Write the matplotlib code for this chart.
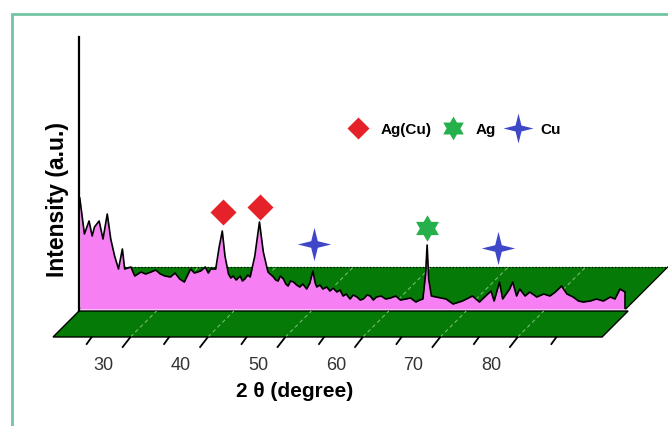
import numpy as np
import matplotlib.pyplot as plt
from matplotlib.patches import Polygon, Rectangle
from matplotlib.path import Path

plt.rcParams['font.family'] = ['Liberation Sans', 'DejaVu Sans']

# XRD pattern (2 theta in degree, intensity in a.u.)
two_theta = [25.1, 25.7, 26.3, 26.7, 27.0, 27.6, 28.1, 28.65, 29.1, 29.6,
             30.1, 30.6, 30.9, 31.7, 32.2, 33.0, 33.6, 34.3, 34.9, 35.5,
             36.1, 36.8, 37.4, 38.0, 38.6, 39.4, 39.9, 40.7, 41.3, 41.7,
             42.0, 42.65, 43.1, 43.5, 43.85, 44.3, 44.6, 44.9, 45.3, 45.8,
             46.1, 46.4, 46.8, 47.1, 47.7, 48.3, 48.8, 49.4, 50.1, 50.4,
             50.7, 51.0, 51.4, 51.7, 52.0, 52.3, 52.7, 53.1, 53.5, 53.9,
             54.4, 54.8, 55.2, 55.5, 55.7, 56.1, 56.5, 57.0, 57.4, 57.8,
             58.3, 58.7, 59.1, 59.5, 60.0, 60.4, 60.9, 61.3, 61.7, 62.2,
             62.6, 63.0, 63.4, 64.0, 64.6, 65.2, 65.9, 66.5, 67.2, 67.8,
             68.5, 69.0, 69.4, 69.75, 69.95, 70.15, 70.5, 71.1, 72.4, 73.3,
             74.5, 75.8, 76.7, 77.5, 78.2, 78.6, 79.3, 79.7, 80.6, 81.0,
             81.5, 81.9, 82.6, 83.2, 84.1, 85.0, 85.8, 86.5, 87.3, 88.0,
             88.8, 89.5, 90.1, 91.0, 91.8, 92.7, 93.6, 94.2, 94.85, 95.5]
intensity = [111, 75, 88, 73, 82, 88, 70, 95, 70, 53,
             40, 60, 40, 42, 33, 37, 35, 37, 39, 35,
             33, 32, 36, 30, 27, 40, 36, 38, 42, 36,
             40, 40, 62, 78, 53, 35, 31, 33, 29, 33,
             28, 30, 34, 32, 53, 87, 57, 37, 32, 29,
             28, 33, 30, 25, 23, 28, 27, 24, 22, 25,
             20, 26, 38, 26, 22, 24, 20, 22, 18, 21,
             17, 19, 13, 15, 10, 14, 12, 9, 10, 14,
             13, 9, 12, 13, 10, 11, 13, 9, 10, 11,
             7, 9, 10, 35, 64, 30, 13, 12, 10, 5,
             8, 13, 7, 13, 18, 8, 27, 10, 20, 27,
             13, 20, 13, 17, 12, 15, 13, 17, 23, 15,
             12, 8, 7, 8, 10, 8, 12, 10, 20, 17]

# phase markers
agcu_x = [43.6, 48.4]
agcu_y = [97, 102]
ag_x = [69.95]
ag_y = [81]
cu_x = [55.3, 79.1]
cu_y = [65, 61]

tick_values = list(range(30, 95, 5))
tick_labels = ['30', '40', '50', '60', '70', '80']

px_per_deg = 7.745
depth = 26 / px_per_deg      # front slab shift (deg)
back = 42 / px_per_deg       # back floor shift (deg)

fig = plt.figure(figsize=(6.68, 4.27), dpi=100)
ax = fig.add_axes([0, 0, 1, 1])
ax.set_xlim(14.80, 101.05)
ax.set_ylim(-117, 310)
ax.axis('off')

# frame
fig.patches.append(Rectangle((12 / 668, -0.02), 1.0, 1 - 15 / 427 + 0.02,
                             transform=fig.transFigure, fill=False,
                             ec='#72c4a4', lw=2))

green = '#067a06'
x0, x1 = 25, 95.6
# back floor
ax.add_patch(Polygon([(x0, 0), (x1, 0), (x1 + back, 42), (x0 + back, 42)],
                     closed=True, fc=green, ec='none', zorder=1))
ax.plot([x0 + back, x1 + back], [42, 42], color='black', lw=0.9, ls=':', zorder=1)
ax.plot([x1, x1 + back], [0, 42], color='black', lw=0.9, zorder=1)
for d in range(35, 95, 10):
    ax.plot([d, d + back], [0, 42], color='#7fc47f', lw=0.7, ls=(0, (4, 3)), zorder=1)

# front slab
ax.add_patch(Polygon([(x0, -2), (x1 + 0.3, -2), (x1 + 0.3 - depth, -28), (x0 - depth, -28)],
                     closed=True, fc=green, ec='black', lw=1.0, zorder=2))
for d in range(35, 95, 10):
    ax.plot([d - depth, d], [-28, -2], color='#7fc47f', lw=0.7, ls=(0, (4, 3)), zorder=2)

# pattern
ax.fill_between(two_theta, 0, intensity, color='#f77ff4', lw=0, zorder=3)
ax.plot(two_theta, intensity, color='black', lw=1.2, zorder=4)
ax.vlines(two_theta[-1], 0, intensity[-1], color='black', lw=1.2, zorder=4)

# vertical axis
ax.plot([x0, x0], [-2, 272], color='black', lw=1.6, zorder=5)

# ticks on the slab edge
for d in tick_values:
    ln = 1.0 if d % 10 == 5 else 0.65
    dy = 10 if d % 10 == 5 else 7
    ax.plot([d - depth, d - depth - ln], [-28, -28 - dy], color='black', lw=1.3, zorder=5)
for d, lab in zip(range(30, 90, 10), tick_labels):
    ax.text(d - depth + 1.55, -56, lab, ha='center', va='center',
            fontsize=13, color='#333333')

ax.text(52.9, -82, '2 \u03b8 (degree)', ha='center', va='center',
        fontsize=15, fontweight='bold')
ax.text(22.2, 110, 'Intensity (a.u.)', ha='center', va='center',
        rotation=90, fontsize=16.5, fontweight='bold')

star4 = Path.unit_regular_star(4, 0.28)
star6 = Path.unit_regular_star(6, 0.58)
ax.plot(agcu_x, agcu_y, ls='none', marker='D', ms=13, color='#e5222a',
        mec='none', zorder=6, label='Ag(Cu)')
ax.plot(ag_x, ag_y, ls='none', marker=star6, ms=19, color='#25b04b',
        mec='none', zorder=6, label='Ag')
ax.plot(cu_x, cu_y, ls='none', marker=star4, ms=24, color='#3f47c9',
        mec='none', zorder=6, label='Cu')

ax.legend(loc='center left', bbox_to_anchor=(349 / 668, 1 - 130 / 427),
          ncol=3, frameon=False, handlelength=1.2, handletextpad=0.85,
          columnspacing=0.85, borderpad=0, borderaxespad=0, markerscale=0.9,
          prop={'weight': 'bold', 'size': 11})

plt.savefig('out.png', dpi=100)
